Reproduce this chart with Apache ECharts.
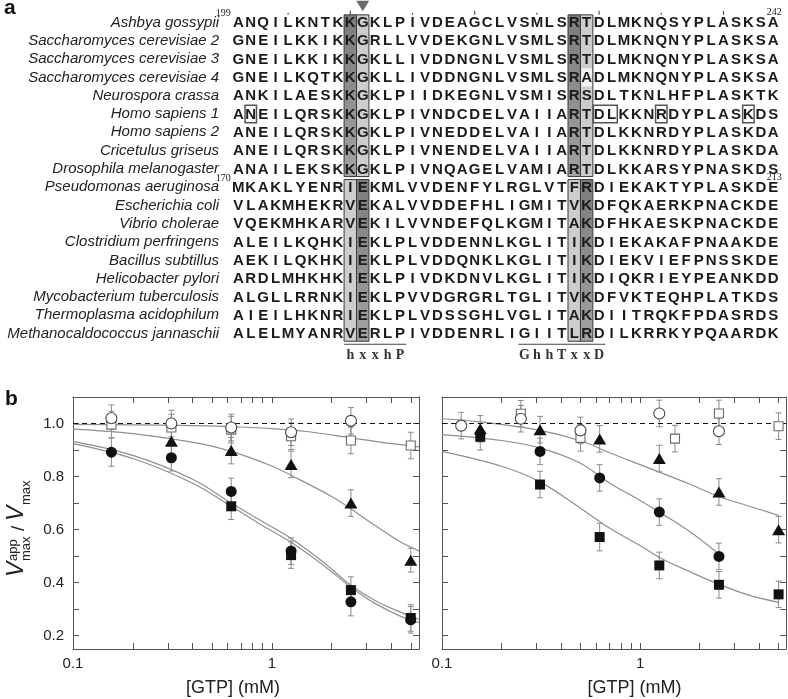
<!DOCTYPE html>
<html><head><meta charset="utf-8">
<script src="https://cdn.jsdelivr.net/npm/echarts@6/dist/echarts.min.js"></script>
<style>html,body{margin:0;padding:0;background:#fff}#c{width:788px;height:699px}</style>
</head><body><div id="c"></div>
<script>
// ---------- Panel a: alignment ----------
const species = ['Ashbya gossypii','Saccharomyces cerevisiae 2','Saccharomyces cerevisiae 3','Saccharomyces cerevisiae 4','Neurospora crassa','Homo sapiens 1','Homo sapiens 2','Cricetulus griseus','Drosophila melanogaster','Pseudomonas aeruginosa','Escherichia coli','Vibrio cholerae','Clostridium perfringens','Bacillus subtillus','Helicobacter pylori','Mycobacterium tuberculosis','Thermoplasma acidophilum','Methanocaldococcus jannaschii'];
const sequences = [
 'ANQILKNTKKGKLPIVDEAGCLVSMLSRTDLMKNQSYPLASKSA',
 'GNEILKKIKKGRLLVVDEKGNLVSMLSRTDLMKNQNYPLASKSA',
 'GNEILKKIKKGKLLIVDDNGNLVSMLSRTDLMKNQNYPLASKSA',
 'GNEILKQTKKGKLLIVDDNGNLVSMLSRADLMKNQNYPLASKSA',
 'ANKILAESKKGKLPIIDKEGNLVSMISRSDLTKNLHFPLASKTK',
 'ANEILQRSKKGKLPIVNDCDELVAIIARTDLKKNRDYPLASKDS',
 'ANEILQRSKKGKLPIVNEDDELVAIIARTDLKKNRDYPLASKDA',
 'ANEILQRSKKGKLPIVNENDELVAIIARTDLKKNRDYPLASKDA',
 'ANAILEKSKKGKLPIVNQAGELVAMIARTDLKKARSYPNASKDS',
 'MKAKLYENRIEKMLVVDENFYLRGLVTFRDIEKAKTYPLASKDE',
 'VLAKMHEKRVEKALVVDDEFHLIGMITVKDFQKAERKPNACKDE',
 'VQEKMHKARVEKILVVNDEFQLKGMITAKDFHKAESKPNACKDE',
 'ALEILKQHKIEKLPLVDDENNLKGLITIKDIEKAKAFPNAAKDE',
 'AEKILQKHKIEKLPLVDDQNKLKGLITIKDIEKVIEFPNSSKDE',
 'ARDLMHKHKIEKLPIVDKDNVLKGLITIKDIQKRIEYPEANKDD',
 'ALGLLRRNKIEKLPVVDGRGRLTGLITVKDFVKTEQHPLATKDS',
 'AIEILHKNRIEKLPLVDSSGHLVGLITAKDIITRQKFPDASRDS',
 'ALELMYANRVERLPIVDDENRLIGIITLRDILKRRKYPQAARDK'
];
const groupFirstRow = [0, 9];
const groupLastRow = [8, 17];
const groupDarkCols = [[9, 27], [10, 28]];
const groupLightCols = [[10, 28], [9, 27]];
const unshadedCells = [[3, 28]];            // [row, col]
const boxedCells = [[5, 1, 1], [5, 29, 30], [5, 34, 34], [5, 41, 41]]; // [row, firstCol, lastCol]
const topTickCols = [4, 9, 14, 19, 24, 29, 34, 39];
const topTickMajor = [0, 1, 0, 1, 0, 1, 0, 1];
const arrowCol = 10;
const motifStartCols = [9, 23];
const motifTexts = ['hxxhP', 'GhhTxxD'];
const numberRows = [0, 9];
const startNumbers = ['199', '170'];
const endNumbers = ['242', '213'];

// ---------- Panel b: data ----------
const xTickValues = [0.1,0.2,0.3,0.4,0.5,0.6,0.7,0.8,0.9,1,2,3,4,5];
const xLabelValues = [0.1, 1];
const yTickValues = [0.2,0.3,0.4,0.5,0.6,0.7,0.8,0.9,1.0];
const yLabelValues = [0.2,0.4,0.6,0.8,1.0];

// left plot
const lOpenCircleX = [0.156, 0.3125, 0.625, 1.25, 2.5];
const lOpenCircleY = [1.02, 1.00, 0.985, 0.967, 1.01];
const lOpenCircleErr = [0.05, 0.05, 0.05, 0.05, 0.05];
const lOpenSquareX = [0.156, 0.3125, 0.625, 1.25, 2.5, 5];
const lOpenSquareY = [0.996, 0.985, 0.977, 0.952, 0.936, 0.917];
const lOpenSquareErr = [0.05, 0.05, 0.05, 0.05, 0.05, 0.05];
const lTriangleX = [0.3125, 0.625, 1.25, 2.5, 5];
const lTriangleY = [0.933, 0.898, 0.846, 0.70, 0.485];
const lTriangleErr = [0.05, 0.05, 0.05, 0.05, 0.045];
const lCircleX = [0.156, 0.3125, 0.625, 1.25, 2.5, 5];
const lCircleY = [0.892, 0.871, 0.744, 0.519, 0.328, 0.26];
const lCircleErr = [0.053, 0.05, 0.05, 0.05, 0.053, 0.05];
const lSquareX = [0.625, 1.25, 2.5, 5];
const lSquareY = [0.688, 0.504, 0.372, 0.267];
const lSquareErr = [0.05, 0.05, 0.05, 0.05];
const lCurveOpenX = [0.1, 0.2, 0.4, 0.7, 1, 1.5, 2.5, 3.5, 5.5];
const lCurveOpenY = [0.997, 0.995, 0.992, 0.987, 0.981, 0.97, 0.946, 0.93, 0.912];
const lCurveTriX = [0.1, 0.2, 0.43, 0.625, 1, 1.25, 2, 2.5, 3.1, 4.4, 5.5];
const lCurveTriY = [0.979, 0.962, 0.925, 0.895, 0.84, 0.805, 0.725, 0.678, 0.63, 0.555, 0.52];
const lCurveAX = [0.1, 0.2, 0.4, 0.625, 0.9, 1.25, 1.8, 2.5, 3.3, 4.4, 5.5];
const lCurveAY = [0.933, 0.88, 0.79, 0.70, 0.63, 0.567, 0.48, 0.39, 0.333, 0.29, 0.262];
const lCurveBX = [0.1, 0.2, 0.4, 0.625, 0.9, 1.25, 1.8, 2.5, 3.3, 4.4, 5.5];
const lCurveBY = [0.924, 0.868, 0.775, 0.688, 0.615, 0.552, 0.468, 0.383, 0.322, 0.275, 0.25];

// right plot
const rOpenCircleX = [0.125, 0.25, 0.5, 1.25, 2.5];
const rOpenCircleY = [0.992, 1.018, 0.974, 1.038, 0.971];
const rOpenCircleErr = [0.05, 0.05, 0.05, 0.05, 0.05];
const rOpenSquareX = [0.25, 0.5, 1.5, 2.5, 5];
const rOpenSquareY = [1.037, 0.946, 0.943, 1.038, 0.99];
const rOpenSquareErr = [0.05, 0.05, 0.05, 0.05, 0.05];
const rTriangleX = [0.156, 0.3125, 0.625, 1.25, 2.5, 5];
const rTriangleY = [0.98, 0.977, 0.942, 0.868, 0.742, 0.60];
const rTriangleErr = [0.05, 0.05, 0.05, 0.05, 0.05, 0.05];
const rCircleX = [0.3125, 0.625, 1.25, 2.5];
const rCircleY = [0.895, 0.795, 0.666, 0.499];
const rCircleErr = [0.05, 0.05, 0.05, 0.05];
const rSquareX = [0.156, 0.3125, 0.625, 1.25, 2.5, 5];
const rSquareY = [0.95, 0.77, 0.572, 0.465, 0.392, 0.356];
const rSquareErr = [0.05, 0.05, 0.052, 0.05, 0.05, 0.05];
const rCurveTriX = [0.1, 0.156, 0.3125, 0.5, 0.7, 1, 1.25, 1.8, 2.5, 3.5, 5];
const rCurveTriY = [1.018, 1.006, 0.974, 0.935, 0.89, 0.845, 0.817, 0.77, 0.725, 0.69, 0.654];
const rCurveCircX = [0.1, 0.2, 0.3125, 0.5, 0.7, 1, 1.25, 1.8, 2.5];
const rCurveCircY = [0.958, 0.936, 0.908, 0.85, 0.776, 0.71, 0.666, 0.59, 0.508];
const rCurveSqX = [0.1, 0.2, 0.3125, 0.5, 0.7, 1, 1.25, 1.8, 2.5, 3.5, 5];
const rCurveSqY = [0.895, 0.839, 0.78, 0.681, 0.606, 0.54, 0.495, 0.44, 0.394, 0.354, 0.326];

// ---------- build ----------
const FONT = "'Liberation Sans', Arial, Helvetica, sans-serif";
const SERIF = "'Liberation Serif', 'Times New Roman', serif";
const chart = echarts.init(document.getElementById('c'), null, {renderer: 'canvas'});

const cellData = [];
sequences.forEach((s, r) => { for (let c = 0; c < s.length; c++) cellData.push([c, r, s[c]]); });
const shadeData = [];
groupFirstRow.forEach((r0, g) => {
  groupDarkCols[g].forEach(c => shadeData.push([c, r0, groupLastRow[g], 1]));
  groupLightCols[g].forEach(c => shadeData.push([c, r0, groupLastRow[g], 0]));
});
const darkFill = new echarts.graphic.LinearGradient(0, 0, 0, 1, [
  {offset: 0, color: '#7c7c7c'}, {offset: 1, color: '#a2a2a2'}]);

const alignBase = {type: 'custom', xAxisIndex: 0, yAxisIndex: 0, silent: true, clip: false, animation: false};

const series = [];
// shaded columns
series.push(Object.assign({}, alignBase, {
  z: 1,
  data: shadeData.map(d => [d[0], d[1], d[2], d[3]]),
  encode: {x: 0, y: [1, 2]},
  renderItem(p, api) {
    const d = shadeData[p.dataIndex];
    const tl = api.coord([d[0] - 0.5, d[1] - 0.5]);
    const br = api.coord([d[0] + 0.5, d[2] + 0.5]);
    const inset = 1.5;
    return {type: 'rect', shape: {x: tl[0], y: tl[1] + inset, width: br[0] - tl[0], height: br[1] - tl[1] - 2 * inset},
      style: {fill: d[3] ? darkFill : '#cdcdcd', stroke: '#3a3a3a', lineWidth: 1}};
  }
}));
// unshaded cell inside highlighted column
series.push(Object.assign({}, alignBase, {
  z: 2,
  data: unshadedCells.map(u => [u[1], u[0]]),
  renderItem(p, api) {
    const u = unshadedCells[p.dataIndex];
    const tl = api.coord([u[1] - 0.5, u[0] - 0.5]);
    const br = api.coord([u[1] + 0.5, u[0] + 0.5]);
    return {type: 'rect', shape: {x: tl[0] + 1, y: tl[1], width: br[0] - tl[0] - 2, height: br[1] - tl[1]},
      style: {fill: '#f2f2f2'}};
  }
}));
// boxed residues
series.push(Object.assign({}, alignBase, {
  z: 3,
  data: boxedCells.map(b => [b[1], b[0]]),
  renderItem(p, api) {
    const b = boxedCells[p.dataIndex];
    const tl = api.coord([b[1] - 0.5, b[0] - 0.5]);
    const br = api.coord([b[2] + 0.5, b[0] + 0.5]);
    return {type: 'rect', shape: {x: tl[0] + 0.5, y: tl[1] + 0.5, width: br[0] - tl[0] - 1, height: br[1] - tl[1] - 1},
      style: {fill: 'none', stroke: '#555', lineWidth: 1.5}};
  }
}));
// letters
series.push(Object.assign({}, alignBase, {
  z: 4,
  data: cellData.map(d => [d[0], d[1]]),
  renderItem(p, api) {
    const d = cellData[p.dataIndex];
    const pt = api.coord([d[0], d[1]]);
    return {type: 'text', x: pt[0], y: pt[1] + 0.5,
      style: {text: d[2], font: 'bold 15px ' + FONT, fill: '#1b1b1b', textAlign: 'center', textVerticalAlign: 'middle'}};
  }
}));
// top position ticks
series.push(Object.assign({}, alignBase, {
  z: 4,
  data: topTickCols.map(c => [c, -0.5]),
  renderItem(p, api) {
    const pt = api.coord([topTickCols[p.dataIndex], -0.5]);
    const big = topTickMajor[p.dataIndex];
    return {type: 'rect', shape: {x: pt[0] - 0.6, y: pt[1] - (big ? 2.5 : 0.5), width: 1.2, height: big ? 4 : 2},
      style: {fill: '#555'}};
  }
}));
// arrowhead
series.push(Object.assign({}, alignBase, {
  z: 4,
  data: [[arrowCol, -0.5]],
  renderItem(p, api) {
    const pt = api.coord([arrowCol, -0.5]);
    return {type: 'polygon', shape: {points: [[pt[0] - 6.5, pt[1] - 12.5], [pt[0] + 6.5, pt[1] - 12.5], [pt[0], pt[1] - 2]]},
      style: {fill: '#6a6a6a'}};
  }
}));
// motifs
series.push(Object.assign({}, alignBase, {
  z: 4,
  data: motifStartCols.map(c => [c, 17.5]),
  renderItem(p, api) {
    const c0 = motifStartCols[p.dataIndex], txt = motifTexts[p.dataIndex];
    const a = api.coord([c0 - 0.5, 17.5]);
    const b = api.coord([c0 + txt.length - 0.5, 17.5]);
    const kids = [{type: 'line', shape: {x1: a[0], y1: a[1] + 1.5, x2: b[0], y2: b[1] + 1.5}, style: {stroke: '#444', lineWidth: 1}}];
    for (let i = 0; i < txt.length; i++) {
      const q = api.coord([c0 + i, 17.5]);
      kids.push({type: 'text', x: q[0], y: q[1] + 12.5,
        style: {text: txt[i], font: 'bold 14px ' + SERIF, fill: '#333', textAlign: 'center', textVerticalAlign: 'middle'}});
    }
    return {type: 'group', children: kids};
  }
}));
// residue numbers
series.push(Object.assign({}, alignBase, {
  z: 4,
  data: numberRows.map(r => [0, r]),
  renderItem(p, api) {
    const r = numberRows[p.dataIndex];
    const s = api.coord([-0.6, r - 0.5]);
    const e = api.coord([43, r - 0.5]);
    return {type: 'group', children: [
      {type: 'text', x: s[0], y: s[1] + 0.5, style: {text: startNumbers[p.dataIndex], font: '10px ' + SERIF, fill: '#222', textAlign: 'right', textVerticalAlign: 'middle'}},
      {type: 'text', x: e[0] + 1, y: e[1] - 1, style: {text: endNumbers[p.dataIndex], font: '10px ' + SERIF, fill: '#222', textAlign: 'center', textVerticalAlign: 'middle'}}
    ]};
  }
}));

// ---------- panel b series ----------
function errSeries(xs, ys, es, ai) {
  return {type: 'custom', xAxisIndex: ai, yAxisIndex: ai, silent: true, z: 2, animation: false,
    data: xs.map((x, i) => [x, ys[i] - es[i], ys[i] + es[i]]),
    encode: {x: 0, y: [1, 2]},
    renderItem(p, api) {
      const lo = api.coord([api.value(0), api.value(1)]);
      const hi = api.coord([api.value(0), api.value(2)]);
      const w = 3, st = {stroke: '#8a8a8a', lineWidth: 1};
      return {type: 'group', children: [
        {type: 'line', shape: {x1: lo[0], y1: lo[1], x2: hi[0], y2: hi[1]}, style: st},
        {type: 'line', shape: {x1: lo[0] - w, y1: lo[1], x2: lo[0] + w, y2: lo[1]}, style: st},
        {type: 'line', shape: {x1: hi[0] - w, y1: hi[1], x2: hi[0] + w, y2: hi[1]}, style: st}
      ]};
    }};
}
function scat(xs, ys, symbol, size, fill, stroke, ai, z) {
  return {type: 'scatter', xAxisIndex: ai, yAxisIndex: ai, symbol: symbol, symbolSize: size, z: z, silent: true, animation: false,
    itemStyle: {color: fill, borderColor: stroke || fill, borderWidth: stroke ? 1.1 : 0, opacity: 1},
    data: xs.map((x, i) => [x, ys[i]])};
}
function curve(xs, ys, ai, extra) {
  return Object.assign({type: 'line', xAxisIndex: ai, yAxisIndex: ai, smooth: 0.35, symbol: 'none', showSymbol: false, silent: true, z: 3, animation: false,
    lineStyle: {color: '#8f8f8f', width: 1.2},
    data: xs.map((x, i) => [x, ys[i]])}, extra || {});
}
const dashLine = {markLine: {silent: true, symbol: ['none', 'none'], label: {show: false}, animation: false,
  lineStyle: {type: [5, 4], color: '#111', width: 1.2}, data: [{yAxis: 1}]}};

[[1, [lOpenCircleX, lOpenCircleY, lOpenCircleErr], [lOpenSquareX, lOpenSquareY, lOpenSquareErr], [lTriangleX, lTriangleY, lTriangleErr], [lCircleX, lCircleY, lCircleErr], [lSquareX, lSquareY, lSquareErr]],
 [3, [rOpenCircleX, rOpenCircleY, rOpenCircleErr], [rOpenSquareX, rOpenSquareY, rOpenSquareErr], [rTriangleX, rTriangleY, rTriangleErr], [rCircleX, rCircleY, rCircleErr], [rSquareX, rSquareY, rSquareErr]]
].forEach(g => {
  const ai = g[0];
  for (let k = 1; k < g.length; k++) series.push(errSeries(g[k][0], g[k][1], g[k][2], ai));
});

series.push(curve(lCurveOpenX, lCurveOpenY, 1, dashLine));
series.push(curve(lCurveTriX, lCurveTriY, 1));
series.push(curve(lCurveAX, lCurveAY, 1));
series.push(curve(lCurveBX, lCurveBY, 1));
series.push(curve(rCurveTriX, rCurveTriY, 3, dashLine));
series.push(curve(rCurveCircX, rCurveCircY, 3));
series.push(curve(rCurveSqX, rCurveSqY, 3));

[[1, lOpenCircleX, lOpenCircleY, lOpenSquareX, lOpenSquareY, lTriangleX, lTriangleY, lCircleX, lCircleY, lSquareX, lSquareY],
 [3, rOpenCircleX, rOpenCircleY, rOpenSquareX, rOpenSquareY, rTriangleX, rTriangleY, rCircleX, rCircleY, rSquareX, rSquareY]
].forEach(g => {
  const ai = g[0];
  series.push(scat(g[3], g[4], 'rect', 9, '#fff', '#6a6a6a', ai, 5));
  series.push(scat(g[1], g[2], 'circle', 11, '#fff', '#444', ai, 6));
  series.push(scat(g[5], g[6], 'triangle', [13, 11], '#111', null, ai, 6));
  series.push(scat(g[9], g[10], 'rect', 10, '#111', null, ai, 6));
  series.push(scat(g[7], g[8], 'circle', 11, '#111', null, ai, 7));
});

// ---------- axes ----------
const frame = {color: '#555', width: 1};
function logX(gi, max, pos, withLabel, pad) {
  return {type: 'log', logBase: 10, gridIndex: gi, min: 0.1, max: max, position: pos,
    axisLine: {show: true, onZero: false, lineStyle: frame},
    axisTick: {show: true, inside: true, length: 6, customValues: xTickValues, lineStyle: frame},
    minorTick: {show: false}, splitLine: {show: false}, minorSplitLine: {show: false},
    axisLabel: withLabel ? {show: true, customValues: xLabelValues, formatter: v => String(+(+v).toPrecision(2)),
      fontSize: 15, color: '#222', fontFamily: FONT, margin: 7} : {show: false},
    name: withLabel ? '[GTP] (mM)' : '', nameLocation: 'middle', nameGap: 30,
    nameTextStyle: {fontSize: 18, color: '#222', fontFamily: FONT, padding: pad || 0}};
}
function valY(gi, pos, withLabel) {
  return {type: 'value', gridIndex: gi, min: 0.15, max: 1.1, position: pos,
    axisLine: {show: true, onZero: false, lineStyle: frame},
    axisTick: {show: true, inside: true, length: 6, customValues: yTickValues, lineStyle: frame},
    axisLabel: withLabel ? {show: true, customValues: yLabelValues, formatter: v => (+v).toFixed(1),
      fontSize: 15, color: '#222', fontFamily: FONT, margin: 9} : {show: false},
    splitLine: {show: false}};
}

const option = {
  animation: false,
  backgroundColor: '#fff',
  textStyle: {fontFamily: FONT},
  grid: [
    {left: 232.1, top: 13.35, width: 547.4, height: 329.4, outerBoundsMode: 'none', containLabel: false},
    {left: 73, top: 397, width: 346, height: 252, outerBoundsMode: 'none', containLabel: false},
    {left: 442, top: 397, width: 344, height: 252, outerBoundsMode: 'none', containLabel: false}
  ],
  xAxis: [
    {type: 'value', gridIndex: 0, min: -0.5, max: 43.5, show: false},
    logX(1, 5.5, 'bottom', true, [0, 26, 0, 0]),
    logX(1, 5.5, 'top', false),
    logX(2, 5.45, 'bottom', true, [0, 0, 0, 41]),
    logX(2, 5.45, 'top', false)
  ],
  yAxis: [
    {type: 'value', gridIndex: 0, min: -0.5, max: 17.5, inverse: true,
      axisLine: {show: false}, axisTick: {show: false}, splitLine: {show: false},
      axisLabel: {show: true, customValues: species.map((s, i) => i), formatter: v => species[Math.round(v)] || '',
        fontSize: 15, fontStyle: 'italic', color: '#222', fontFamily: FONT, margin: 13}},
    valY(1, 'left', true),
    valY(1, 'right', false),
    valY(2, 'left', false),
    valY(2, 'right', false)
  ],
  graphic: [
    {type: 'text', left: 4, top: -2, style: {text: 'a', font: 'bold 21px ' + FONT, fill: '#111'}},
    {type: 'text', left: 5, top: 389, style: {text: 'b', font: 'bold 21px ' + FONT, fill: '#111'}},
    {type: 'group', x: 28, y: 577, rotation: Math.PI / 2, children: [
      {type: 'text', x: 0, y: 0, style: {text: 'V', font: 'italic 23px ' + FONT, fill: '#222', textAlign: 'left', textVerticalAlign: 'bottom'}},
      {type: 'text', x: 16, y: -8, style: {text: 'app', font: '13px ' + FONT, fill: '#222', textAlign: 'left', textVerticalAlign: 'bottom'}},
      {type: 'text', x: 16, y: 5, style: {text: 'max', font: '13px ' + FONT, fill: '#222', textAlign: 'left', textVerticalAlign: 'bottom'}},
      {type: 'text', x: 46, y: 0, style: {text: '/', font: '19px ' + FONT, fill: '#222', textAlign: 'left', textVerticalAlign: 'bottom'}},
      {type: 'text', x: 56, y: 0, style: {text: 'V', font: 'italic 23px ' + FONT, fill: '#222', textAlign: 'left', textVerticalAlign: 'bottom'}},
      {type: 'text', x: 72, y: 5, style: {text: 'max', font: '13px ' + FONT, fill: '#222', textAlign: 'left', textVerticalAlign: 'bottom'}}
    ]}
  ],
  series: series
};
chart.setOption(option);
</script>
</body></html>
